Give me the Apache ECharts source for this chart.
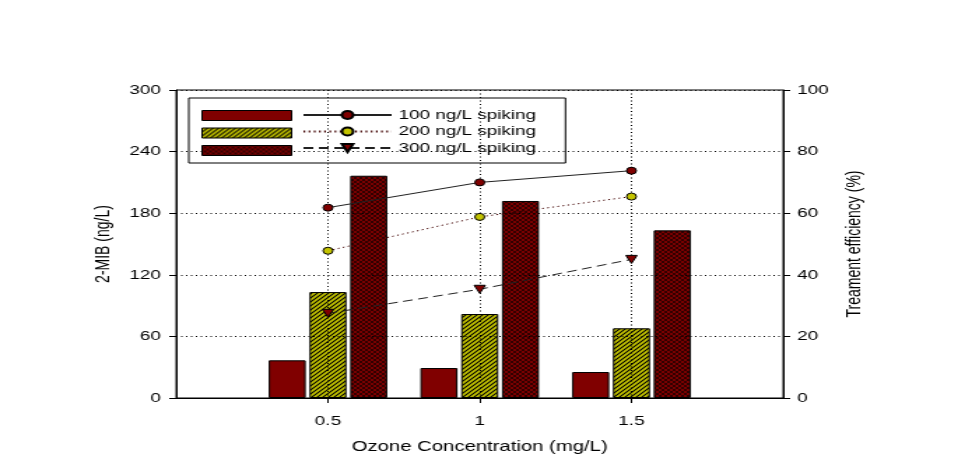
<!DOCTYPE html>
<html>
<head>
<meta charset="utf-8">
<script src="https://cdn.jsdelivr.net/npm/echarts@6/dist/echarts.min.js"></script>
<style>
html,body{margin:0;padding:0;background:#fff;overflow:hidden;width:979px;height:471px;}
#c{width:700px;height:471px;transform:scaleX(1.398571);transform-origin:0 0;}
</style>
</head>
<body>
<div id="c"></div>
<script>
// ---- data ----
const categories = [0.5, 1, 1.5];               // ozone concentration (mg/L)
const seriesNames = ['100 ng/L spiking', '200 ng/L spiking', '300 ng/L spiking'];
const mib100 = [36.7, 29.2, 25.3];               // 2-MIB residual (ng/L)
const mib200 = [103.2, 81.8, 67.9];
const mib300 = [216.5, 191.9, 163.3];
const eff100 = [61.8, 70.0, 73.8];               // treatment efficiency (%)
const eff200 = [47.8, 58.8, 65.4];
const eff300 = [27.5, 35.3, 45.0];
const leftTicks = [0, 60, 120, 180, 240, 300];
const rightTicks = [0, 20, 40, 60, 80, 100];

// ---- patterns ----
function hatchPattern() {
  const c = document.createElement('canvas');
  c.width = 4; c.height = 4;
  const g = c.getContext('2d');
  g.fillStyle = '#c4c400'; g.fillRect(0, 0, 4, 4);
  g.strokeStyle = '#000'; g.lineWidth = 1.1;
  g.beginPath();
  g.moveTo(-1, 5); g.lineTo(5, -1);
  g.moveTo(-1, 1); g.lineTo(1, -1);
  g.moveTo(3, 5); g.lineTo(5, 3);
  g.stroke();
  return { image: c, repeat: 'repeat' };
}
function crossPattern() {
  const c = document.createElement('canvas');
  c.width = 4; c.height = 4;
  const g = c.getContext('2d');
  g.fillStyle = '#7a0000'; g.fillRect(0, 0, 4, 4);
  g.strokeStyle = 'rgba(0,0,0,0.75)'; g.lineWidth = 0.8;
  g.beginPath();
  g.moveTo(0, 0); g.lineTo(4, 4);
  g.moveTo(4, 0); g.lineTo(0, 4);
  g.stroke();
  return { image: c, repeat: 'repeat' };
}

const pairs = (xs, ys) => xs.map((x, i) => [x, ys[i]]);
const barNames = ['b100', 'b200', 'b300'];
const FONT = 'Liberation Sans, Arial, sans-serif';

const chart = echarts.init(document.getElementById('c'), null, { renderer: 'canvas' });
const lineCommon = { type: 'line', yAxisIndex: 1, z: 5, animation: false };

chart.setOption({
  animation: false,
  backgroundColor: '#fff',
  textStyle: { fontFamily: FONT, color: '#000' },
  grid: { left: 126, right: 140, top: 90, bottom: 73, show: true, borderColor: '#000', borderWidth: 1, backgroundColor: 'transparent' },
  legend: [
    {
      data: barNames, orient: 'vertical', left: 144, top: 110, padding: 0,
      icon: 'rect',
      itemWidth: 64, itemHeight: 10, itemGap: 6.5,
      formatter: () => '', textStyle: { fontSize: 10, lineHeight: 10 },
      itemStyle: { borderColor: '#000', borderWidth: 1 },
      selectedMode: false
    },
    {
      data: seriesNames, orient: 'vertical', left: 135, top: 98, padding: [10, 21, 8, 81],
      itemWidth: 63, itemHeight: 10, itemGap: 2.5,
      borderColor: '#000', borderWidth: 1,
      textStyle: { fontSize: 13.5, lineHeight: 14, color: '#000', fontFamily: FONT },
      selectedMode: false
    }
  ],
  xAxis: {
    type: 'value', min: 0, max: 2, interval: 0.5, z: 3,
    name: 'Ozone Concentration (mg/L)', nameLocation: 'middle', nameGap: 41,
    nameTextStyle: { fontSize: 14.5, color: '#000', fontFamily: FONT },
    axisLine: { lineStyle: { color: '#000', width: 1 } },
    axisTick: { length: 5, customValues: categories, lineStyle: { color: '#000' } },
    axisLabel: { customValues: categories, margin: 16, fontSize: 13.5, color: '#000', fontFamily: FONT },
    splitLine: { show: true, lineStyle: { type: [1, 2.5], color: '#000', width: 1 } }
  },
  yAxis: [
    {
      type: 'value', min: leftTicks[0], max: leftTicks[leftTicks.length - 1], interval: leftTicks[1] - leftTicks[0], z: 3,
      name: '2-MIB (ng/L)', nameLocation: 'middle', nameGap: 45, nameRotate: 90,
      nameTextStyle: { fontSize: 14, color: '#000', fontFamily: FONT },
      axisLine: { show: true, lineStyle: { color: '#000' } },
      axisTick: { show: true, length: 5, lineStyle: { color: '#000' } },
      axisLabel: { margin: 11, fontSize: 13.5, color: '#000', fontFamily: FONT },
      splitLine: { show: true, lineStyle: { type: [1, 2.5], color: '#000', width: 1 } }
    },
    {
      type: 'value', position: 'right', min: rightTicks[0], max: rightTicks[rightTicks.length - 1], interval: rightTicks[1] - rightTicks[0], z: 3,
      name: 'Treament efficiency (%)', nameLocation: 'middle', nameGap: 44, nameRotate: 90,
      nameTextStyle: { fontSize: 14, color: '#000', fontFamily: FONT },
      axisLine: { show: true, lineStyle: { color: '#000' } },
      axisTick: { show: true, length: 5, lineStyle: { color: '#000' } },
      axisLabel: { margin: 10, fontSize: 13.5, color: '#000', fontFamily: FONT },
      splitLine: { show: false }
    }
  ],
  series: [
    { name: barNames[0], type: 'bar', data: pairs(categories, mib100), barWidth: 26.5, barGap: '10%', z: 2,
      itemStyle: { color: '#800000', borderColor: '#000', borderWidth: 1 } },
    { name: barNames[1], type: 'bar', data: pairs(categories, mib200), barWidth: 26.5, barGap: '10%', z: 2,
      itemStyle: { color: hatchPattern(), borderColor: '#000', borderWidth: 1 } },
    { name: barNames[2], type: 'bar', data: pairs(categories, mib300), barWidth: 26.5, barGap: '10%', z: 2,
      itemStyle: { color: crossPattern(), borderColor: '#000', borderWidth: 1 } },
    Object.assign({}, lineCommon, { name: seriesNames[0], data: pairs(categories, eff100),
      symbol: 'circle', symbolSize: 7,
      lineStyle: { color: '#222', width: 1, type: 'solid' },
      itemStyle: { color: '#800000', borderColor: '#000', borderWidth: 1 } }),
    Object.assign({}, lineCommon, { name: seriesNames[1], data: pairs(categories, eff200),
      symbol: 'circle', symbolSize: 7,
      lineStyle: { color: '#400000', width: 1, type: [1.2, 2.5] },
      itemStyle: { color: '#c4c400', borderColor: '#000', borderWidth: 1 } }),
    Object.assign({}, lineCommon, { name: seriesNames[2], data: pairs(categories, eff300),
      symbol: 'triangle', symbolRotate: 180, symbolSize: 8,
      lineStyle: { color: '#222', width: 1, type: [7, 4] },
      itemStyle: { color: '#800000', borderColor: '#000', borderWidth: 1 } })
  ]
});
</script>
</body>
</html>
